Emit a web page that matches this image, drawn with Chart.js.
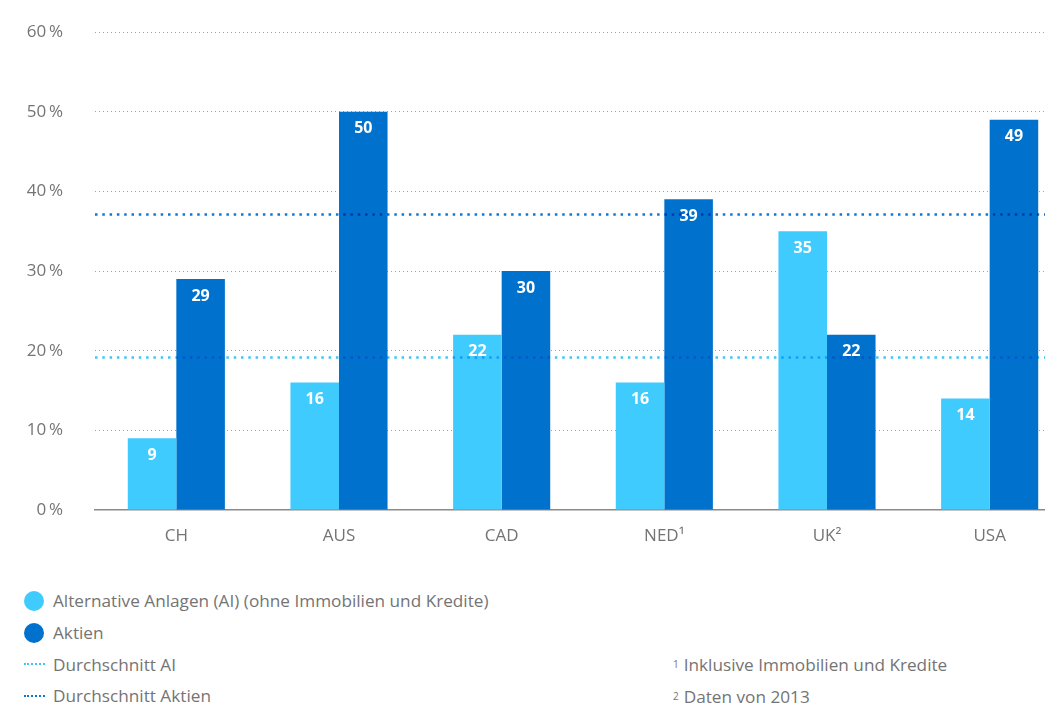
<!DOCTYPE html>
<html lang="de">
<head>
<meta charset="utf-8">
<title>Allokation Alternative Anlagen und Aktien</title>
<script src="https://cdn.jsdelivr.net/npm/chart.js@4.4.1/dist/chart.umd.min.js"></script>
<style>
  html, body { margin: 0; padding: 0; background: #fff; overflow: hidden; }
  body { width: 1045px; height: 707px; position: relative; font-family: "Open Sans", "Noto Sans", sans-serif; color: #747474; }
  #wrap { position: absolute; left: 0; top: 0; width: 1071px; height: 560px; }
  .legend { position: absolute; left: 24px; top: 585px; font-size: 17.2px; }
  .row { height: 31.7px; display: flex; align-items: center; white-space: nowrap; }
  .dot { width: 20px; height: 20px; border-radius: 50%; margin-right: 9px; }
  .dash { width: 21px; height: 0; border-top: 2.5px dotted; margin-right: 8px; }
  .notes { position: absolute; left: 673px; top: 648px; font-size: 17.2px; }
  .notes .row { height: 32px; }
  sup { font-size: 10px; vertical-align: 7px; margin-right: 5px; color: #747474; }
</style>
</head>
<body>
<div id="wrap"><canvas id="chart" width="1071" height="560"></canvas></div>
<div class="legend" id="legend"></div>
<div class="notes">
  <div class="row"><sup>1</sup>Inklusive Immobilien und Kredite</div>
  <div class="row"><sup>2</sup>Daten von 2013</div>
</div>
<script>
// Länder und Anteile in Prozent
const categories = ['CH', 'AUS', 'CAD', 'NED\u00B9', 'UK\u00B2', 'USA'];
const aiValues = [9, 16, 22, 16, 35, 14];
const aktienValues = [29, 50, 30, 39, 22, 49];
// Durchschnittswerte in Prozent
const avgAI = 19.2;
const avgAktien = 37.1;
// Achsenbereich der Y-Achse
const yMin = 0;
const yMax = 60;
const yStep = 10;

const seriesNames = ['Alternative Anlagen (AI) (ohne Immobilien und Kredite)', 'Aktien'];
const avgNames = ['Durchschnitt AI', 'Durchschnitt Aktien'];

const colorAI = '#40CBFF';
const colorAktien = '#0072CD';
const colorAvgAI = '#3CC6FA';
const colorAvgAktien = '#0A78D8';
const textGray = '#747474';
const fontFamily = '"Open Sans", "Noto Sans", sans-serif';

// Gepunktete Durchschnittslinien über den Balken
const averageLines = {
  id: 'averageLines',
  afterDatasetsDraw(chart) {
    const { ctx, chartArea, scales } = chart;
    const lines = [[avgAI, colorAvgAI], [avgAktien, colorAvgAktien]];
    ctx.save();
    ctx.globalCompositeOperation = 'multiply';
    lines.forEach(([v, c]) => {
      const y = Math.round(scales.y.getPixelForValue(v)) + 0.5;
      ctx.strokeStyle = c;
      ctx.lineWidth = 2.5;
      ctx.setLineDash([2.5, 4.8]);
      ctx.beginPath();
      ctx.moveTo(chartArea.left, y);
      ctx.lineTo(chartArea.right, y);
      ctx.stroke();
    });
    ctx.restore();
  }
};

// Werte als weiße Beschriftung oben in den Balken
const barValueLabels = {
  id: 'barValueLabels',
  afterDatasetsDraw(chart) {
    const { ctx } = chart;
    ctx.save();
    ctx.fillStyle = '#ffffff';
    ctx.font = 'bold 16px ' + fontFamily;
    ctx.textAlign = 'center';
    ctx.textBaseline = 'middle';
    chart.data.datasets.forEach((ds, i) => {
      const meta = chart.getDatasetMeta(i);
      meta.data.forEach((bar, j) => {
        ctx.fillText(String(ds.data[j]), bar.x, bar.y + 17);
      });
    });
    ctx.restore();
  }
};

new Chart(document.getElementById('chart'), {
  type: 'bar',
  data: {
    labels: categories,
    datasets: [
      { label: seriesNames[0], data: aiValues, backgroundColor: colorAI, borderWidth: 0 },
      { label: seriesNames[1], data: aktienValues, backgroundColor: colorAktien, borderWidth: 0 }
    ]
  },
  options: {
    responsive: false,
    animation: false,
    devicePixelRatio: 1,
    layout: { padding: { top: 32, right: 0, bottom: 0, left: 0 } },
    plugins: { legend: { display: false }, tooltip: { enabled: false } },
    datasets: { bar: { categoryPercentage: 0.597, barPercentage: 1.0 } },
    scales: {
      x: {
        grid: { display: false, drawTicks: false },
        border: { display: true, color: '#8a8a8a', width: 1.5 },
        ticks: { color: textGray, font: { family: fontFamily, size: 17 }, padding: 16 },
        afterFit(scale) { scale.height = 50; }
      },
      y: {
        min: yMin,
        max: yMax,
        ticks: {
          stepSize: yStep,
          color: textGray,
          font: { family: fontFamily, size: 17 },
          padding: 32,
          callback: (v) => v + '\u2009%'
        },
        grid: {
          drawTicks: false,
          color: (c) => (c.tick && c.tick.value === 0) ? 'rgba(0,0,0,0)' : '#a0a0a0',
          lineWidth: 1
        },
        border: { display: false, dash: [1, 3] },
        afterFit(scale) {
          scale.width = 95;
          scale.paddingTop = 0;
          scale.paddingBottom = 0;
        }
      }
    }
  },
  plugins: [averageLines, barValueLabels]
});

// Legende unter dem Diagramm
const legend = document.getElementById('legend');
[[seriesNames[0], colorAI, 'dot'], [seriesNames[1], colorAktien, 'dot'],
 [avgNames[0], colorAvgAI, 'dash'], [avgNames[1], colorAvgAktien, 'dash']].forEach(([name, color, kind]) => {
  const row = document.createElement('div');
  row.className = 'row';
  const mark = document.createElement('span');
  mark.className = kind;
  if (kind === 'dot') mark.style.background = color; else mark.style.borderTopColor = color;
  const txt = document.createElement('span');
  txt.textContent = name;
  row.appendChild(mark);
  row.appendChild(txt);
  legend.appendChild(row);
});
</script>
</body>
</html>
